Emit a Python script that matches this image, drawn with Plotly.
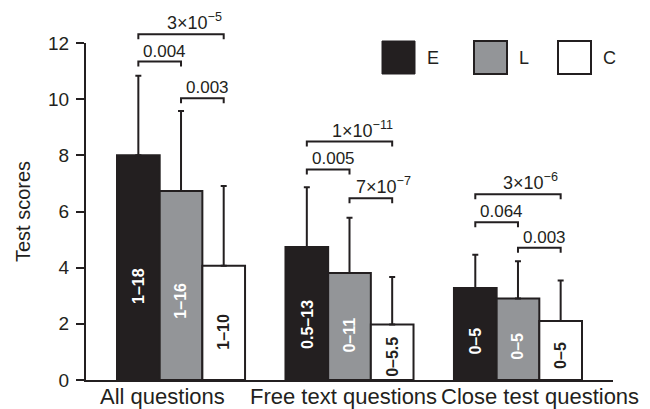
import plotly.graph_objects as go

# ---- data ----
categories = ["All questions", "Free text questions", "Close test questions"]
series = ["E", "L", "C"]
mean_E = [8.0, 4.74, 3.28]
mean_L = [6.73, 3.81, 2.90]
mean_C = [4.07, 1.98, 2.10]
err_E = [2.83, 2.12, 1.18]
err_L = [2.85, 1.97, 1.33]
err_C = [2.84, 1.69, 1.44]
range_E = ["1–18", "0.5–13", "0–5"]
range_L = ["1–16", "0–11", "0–5"]
range_C = ["1–10", "0–5.5", "0–5"]
# significance brackets (height in score units) and p-value labels
br_EC = [12.31, 8.49, 6.61]
br_EL = [11.34, 7.50, 5.62]
br_LC = [10.03, 6.47, 4.71]
p_EC = ["3×10<sup>−5</sup>", "1×10<sup>−11</sup>", "3×10<sup>−6</sup>"]
p_EL = ["0.004", "0.005", "0.064"]
p_LC = ["0.003", "7×10<sup>−7</sup>", "0.003"]
y_ticks = [0, 2, 4, 6, 8, 10, 12]

# ---- style ----
INK = "#231f20"
fills = {"E": INK, "L": "#939598", "C": "#ffffff"}
txtcol = {"E": "#ffffff", "L": "#ffffff", "C": INK}
FONT = "Liberation Sans, Arial, sans-serif"
BARGAP = 0.24
YMAX = 12
W, H = 650, 409
ML, MR, MT, MB = 86, 37, 43, 29
PH = H - MT - MB
PW = W - ML - MR
CAT_SHIFT = [-19, -6, 22]   # horizontal pixel shift of category labels

means = {"E": mean_E, "L": mean_L, "C": mean_C}
errs = {"E": err_E, "L": err_L, "C": err_C}
ranges = {"E": range_E, "L": range_L, "C": range_C}

bw = (1 - BARGAP) / len(series)
offs = {s: (k - (len(series) - 1) / 2) * bw for k, s in enumerate(series)}

fig = go.Figure()
for s in series:
    fig.add_trace(go.Bar(
        x=categories, y=means[s], name=s,
        marker=dict(color=fills[s], line=dict(color=INK, width=2)),
        error_y=dict(type="data", array=errs[s], arrayminus=[0] * len(categories),
                     symmetric=False, color=INK, thickness=2, width=3),
        showlegend=False,
    ))

shapes = []
annotations = []
tick_d = 5 / PH

def bracket(i, a, b, val, label, sci):
    x1 = i + offs[a]
    x2 = i + offs[b]
    yp = val / YMAX
    shapes.append(dict(type="path", xref="x", yref="paper",
                       path=f"M {x1},{yp - tick_d} L {x1},{yp} L {x2},{yp} L {x2},{yp - tick_d}",
                       line=dict(color=INK, width=2)))
    annotations.append(dict(x=(x1 + x2) / 2, y=yp, xref="x", yref="paper",
                            text=label, showarrow=False, xanchor="center", yanchor="bottom",
                            xshift=13 if sci else 5, yshift=-1,
                            font=dict(family=FONT, size=18 if sci else 17, color=INK)))

for i, cat in enumerate(categories):
    bracket(i, "E", "C", br_EC[i], p_EC[i], True)
    bracket(i, "E", "L", br_EL[i], p_EL[i], False)
    bracket(i, "L", "C", br_LC[i], p_LC[i], "sup" in p_LC[i])
    for s in series:
        annotations.append(dict(x=i + offs[s], y=means[s][i] * 0.42, xref="x", yref="y",
                                text=ranges[s][i], textangle=-90, showarrow=False,
                                xanchor="center", yanchor="middle",
                                font=dict(family=FONT, size=16, color=txtcol[s], weight="bold")))
    # category label
    annotations.append(dict(x=i, y=0, xref="x", yref="paper", text=cat, showarrow=False,
                            xanchor="center", yanchor="top", xshift=CAT_SHIFT[i], yshift=-2,
                            font=dict(family=FONT, size=22, color=INK)))

# custom legend (paper coordinates)
leg_x = {"E": 382, "L": 474, "C": 558}
leg_top, leg_size = 41, 33
for s in series:
    x0 = (leg_x[s] - ML) / PW
    x1 = (leg_x[s] + leg_size - ML) / PW
    y1 = (H - MB - leg_top) / PH
    y0 = (H - MB - leg_top - leg_size) / PH
    shapes.append(dict(type="rect", xref="paper", yref="paper", x0=x0, x1=x1, y0=y0, y1=y1,
                       fillcolor=fills[s], line=dict(color=INK, width=2 if s != "E" else 1)))
    annotations.append(dict(x=(leg_x[s] + leg_size + 10 - ML) / PW, y=(y0 + y1) / 2,
                            xref="paper", yref="paper", text=s, showarrow=False,
                            xanchor="left", yanchor="middle",
                            font=dict(family=FONT, size=18, color=INK)))

fig.update_layout(
    width=W, height=H,
    margin=dict(l=ML, r=MR, t=MT, b=MB, pad=0, autoexpand=False),
    paper_bgcolor="white", plot_bgcolor="white",
    barmode="group", bargap=BARGAP, bargroupgap=0,
    font=dict(family=FONT, color=INK),
    shapes=shapes, annotations=annotations,
    xaxis=dict(range=[-0.564, len(categories) - 1 + 0.564], showline=True, linewidth=2,
               linecolor=INK, ticks="", showgrid=False, zeroline=False,
               showticklabels=False, automargin=False),
    yaxis=dict(range=[0, YMAX], tickvals=y_ticks, showline=True, linewidth=2, linecolor=INK,
               ticks="outside", ticklen=8, tickwidth=2, tickcolor=INK,
               showgrid=False, zeroline=False, automargin=False, ticklabelstandoff=3,
               tickfont=dict(family=FONT, size=19, color=INK),
               title=dict(text="Test scores", font=dict(family=FONT, size=20, color=INK), standoff=12)),
)

fig.write_html("out.html", config={"displayModeBar": False},
               post_script="document.body.style.margin='0';document.body.style.overflow='hidden';")
